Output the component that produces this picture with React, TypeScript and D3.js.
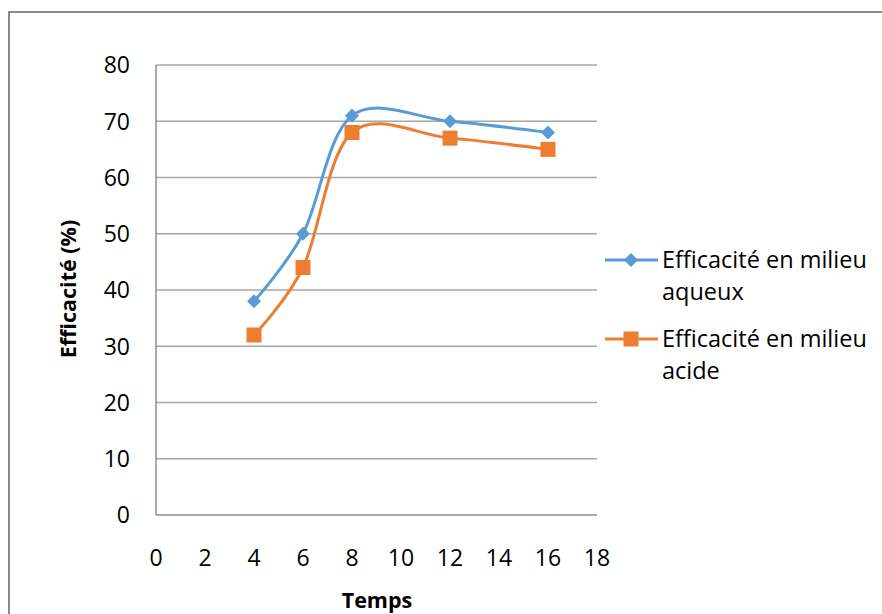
import React, { useEffect, useRef } from 'react';
import * as d3 from 'd3';

const temps = [4, 6, 8, 12, 16];
const aqueux = [38, 50, 71, 70, 68];
const acide = [32, 44, 68, 67, 65];
const xTicks = [0, 2, 4, 6, 8, 10, 12, 14, 16, 18];
const yTicks = [0, 10, 20, 30, 40, 50, 60, 70, 80];
const seriesNames = ['Efficacité en milieu aqueux', 'Efficacité en milieu acide'];

const App = () => {
  const ref = useRef<SVGSVGElement>(null);

  useEffect(() => {
    const svg = d3.select(ref.current);
    svg.selectAll('*').remove();
    const font = "'Open Sans', sans-serif";

    const x = d3.scaleLinear().domain([0, 18]).range([156, 597]);
    const y = d3.scaleLinear().domain([0, 80]).range([515, 65]);

    // outer frame (top + left only visible)
    svg.append('path')
      .attr('d', 'M9,614 L9,12 L882,12')
      .attr('fill', 'none')
      .attr('stroke', '#898989')
      .attr('stroke-width', 2);

    // grid
    svg.append('g').selectAll('line')
      .data(yTicks.filter(t => t > 0))
      .enter().append('line')
      .attr('x1', x(0)).attr('x2', x(18))
      .attr('y1', d => y(d)).attr('y2', d => y(d))
      .attr('stroke', '#a6a6a6').attr('stroke-width', 1.3);

    // axes
    svg.append('line')
      .attr('x1', x(0)).attr('x2', x(18)).attr('y1', y(0)).attr('y2', y(0))
      .attr('stroke', '#8c8c8c').attr('stroke-width', 1.5);
    svg.append('line')
      .attr('x1', x(0)).attr('x2', x(0)).attr('y1', y(0)).attr('y2', y(80))
      .attr('stroke', '#8c8c8c').attr('stroke-width', 1.5);

    svg.append('g').selectAll('text')
      .data(yTicks).enter().append('text')
      .attr('x', 130).attr('y', d => y(d))
      .attr('dy', '0.36em')
      .attr('text-anchor', 'end')
      .attr('font-family', font).attr('font-size', 23)
      .attr('fill', '#000')
      .text(d => d);

    svg.append('g').selectAll('text')
      .data(xTicks).enter().append('text')
      .attr('x', d => x(d)).attr('y', 566)
      .attr('text-anchor', 'middle')
      .attr('font-family', font).attr('font-size', 23)
      .attr('fill', '#000')
      .text(d => d);

    svg.append('text')
      .attr('x', 377).attr('y', 608)
      .attr('text-anchor', 'middle')
      .attr('font-family', font).attr('font-size', 21.5).attr('font-weight', 'bold')
      .text('Temps');

    svg.append('text')
      .attr('transform', 'translate(76,289) rotate(-90)')
      .attr('text-anchor', 'middle')
      .attr('font-family', font).attr('font-size', 21.5).attr('font-weight', 'bold')
      .text('Efficacité (%)');

    const line = d3.line<number>()
      .x((_, i) => x(temps[i]))
      .y(d => y(d))
      .curve(d3.curveCardinal.tension(0));

    const blue = '#5b9bd5';
    const orange = '#ed7d31';

    svg.append('path').datum(aqueux)
      .attr('d', line).attr('fill', 'none')
      .attr('stroke', blue).attr('stroke-width', 3);
    svg.append('path').datum(acide)
      .attr('d', line).attr('fill', 'none')
      .attr('stroke', orange).attr('stroke-width', 3);

    const diamond = d3.symbol().type(d3.symbolDiamond2).size(125);
    svg.append('g').selectAll('path')
      .data(aqueux).enter().append('path')
      .attr('d', diamond)
      .attr('transform', (d, i) => `translate(${x(temps[i])},${y(d)})`)
      .attr('fill', blue);

    svg.append('g').selectAll('rect')
      .data(acide).enter().append('rect')
      .attr('x', (d, i) => x(temps[i]) - 7.5)
      .attr('y', d => y(d) - 7.5)
      .attr('width', 15).attr('height', 15)
      .attr('fill', orange);

    // legend
    const legend = [
      { name: seriesNames[0], color: blue, y: 260, lines: ['Efficacité en milieu', 'aqueux'] },
      { name: seriesNames[1], color: orange, y: 339, lines: ['Efficacité en milieu', 'acide'] },
    ];
    legend.forEach((l, k) => {
      const g = svg.append('g');
      g.append('line')
        .attr('x1', 605).attr('x2', 658).attr('y1', l.y).attr('y2', l.y)
        .attr('stroke', l.color).attr('stroke-width', 3);
      if (k === 0) {
        g.append('path').attr('d', diamond)
          .attr('transform', `translate(631,${l.y})`).attr('fill', l.color);
      } else {
        g.append('rect').attr('x', 623.5).attr('y', l.y - 7.5)
          .attr('width', 15).attr('height', 15).attr('fill', l.color);
      }
      l.lines.forEach((t, j) => {
        g.append('text')
          .attr('x', 662).attr('y', l.y + j * 32)
          .attr('dy', '0.36em')
          .attr('font-family', font).attr('font-size', 23.5)
          .text(t);
      });
    });
  }, []);

  return (
    <svg ref={ref} width={882} height={614}
      style={{ position: 'absolute', left: 0, top: 0, background: '#fff' }} />
  );
};

export default App;
